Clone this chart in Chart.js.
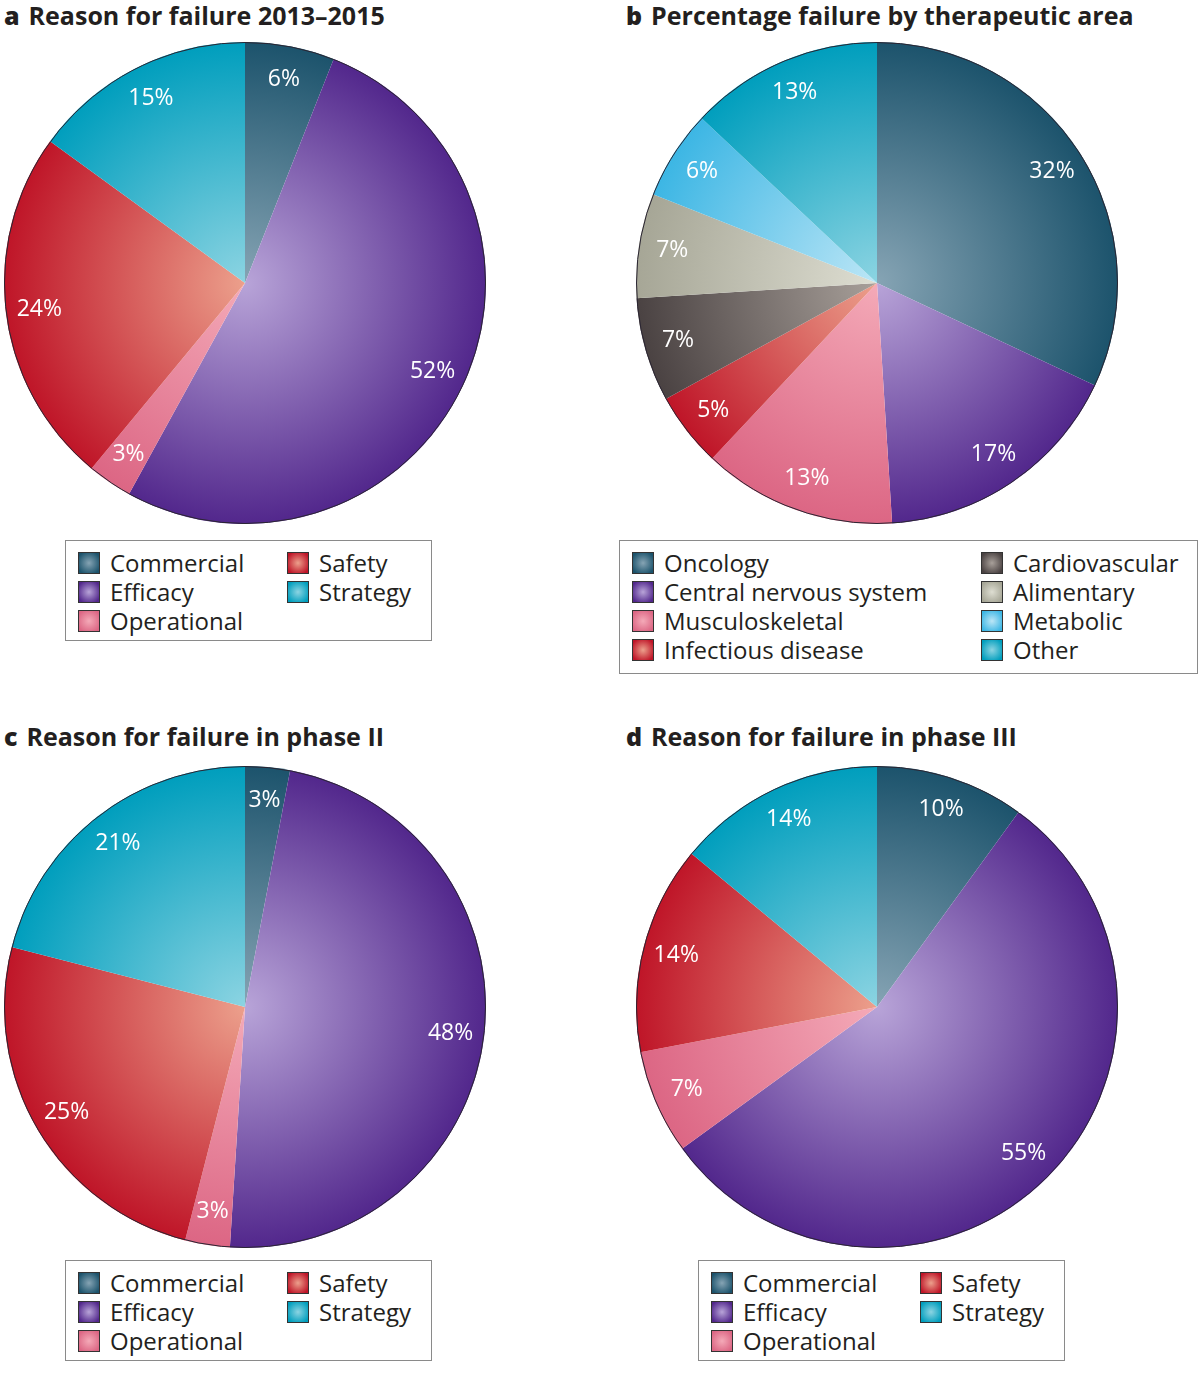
<!DOCTYPE html>
<html>
<head>
<meta charset="utf-8">
<script src="https://cdn.jsdelivr.net/npm/chart.js@4.4.1/dist/chart.umd.min.js"></script>
<style>
  html, body { margin: 0; padding: 0; background: #fff; }
  #page { position: relative; width: 1200px; height: 1377px; font-family: "Open Sans", "Noto Sans", sans-serif; color: #231f20; }
  .title { position: absolute; font-weight: bold; font-size: 25px; line-height: 30px; white-space: nowrap; }
  .title b { margin-right: 9px; }
  canvas { position: absolute; }
  .legend { position: absolute; border: 1px solid #8a8a8a; box-sizing: border-box; display: flex; padding: 7px 0 0 12px; }
  .legend .col { display: flex; flex-direction: column; }
  .legend .item { display: flex; align-items: center; height: 29px; font-size: 24px; white-space: nowrap; }
  .legend .sw { width: 20px; height: 20px; border: 1px solid #333; margin-right: 10px; flex: none; }
</style>
</head>
<body>
<div id="page">
  <div class="title" style="left:4px; top:0px;"><b>a</b>Reason for failure 2013–2015</div>
  <div class="title" style="left:626px; top:0px;"><b>b</b>Percentage failure by therapeutic area</div>
  <div class="title" style="left:4px; top:721px;"><b>c</b>Reason for failure in phase II</div>
  <div class="title" style="left:626px; top:721px;"><b>d</b>Reason for failure in phase III</div>

  <canvas id="pieA" width="482" height="482" style="left:4px; top:42px;"></canvas>
  <canvas id="pieB" width="482" height="482" style="left:636px; top:42px;"></canvas>
  <canvas id="pieC" width="482" height="482" style="left:4px; top:766px;"></canvas>
  <canvas id="pieD" width="482" height="482" style="left:636px; top:766px;"></canvas>

  <div class="legend" id="legA" style="left:65px; top:540px; width:367px; height:101px;"></div>
  <div class="legend" id="legB" style="left:619px; top:540px; width:579px; height:134px;"></div>
  <div class="legend" id="legC" style="left:65px; top:1260px; width:367px; height:101px;"></div>
  <div class="legend" id="legD" style="left:698px; top:1260px; width:367px; height:101px;"></div>
</div>

<script>
// categories
const reasonLabels = ["Commercial", "Efficacy", "Operational", "Safety", "Strategy"];
const areaLabels = ["Oncology", "Central nervous system", "Musculoskeletal", "Infectious disease",
                    "Cardiovascular", "Alimentary", "Metabolic", "Other"];

// values (%)
const failure2013to2015 = [6, 52, 3, 24, 15];
const failureByArea = [32, 17, 13, 5, 7, 7, 6, 13];
const failurePhase2 = [3, 48, 3, 25, 21];
const failurePhase3 = [10, 55, 7, 14, 14];

// [centre colour, edge colour]
const reasonColors = [
  ["#86a4b4", "#1c536c"],
  ["#b8a4d8", "#52278c"],
  ["#f4aab8", "#dc6684"],
  ["#eca08c", "#bf1528"],
  ["#8cd4e2", "#009ebd"],
];
const areaColors = [
  ["#86a4b4", "#1c536c"],
  ["#b8a4d8", "#52278c"],
  ["#f4aab8", "#dc6684"],
  ["#eca08c", "#bf1528"],
  ["#a8a09a", "#4a4242"],
  ["#deded2", "#a6a696"],
  ["#bce6f6", "#3cb6e4"],
  ["#8cd4e2", "#009ebd"],
];

// radial fill for every slice, light in the middle, dark at the rim
function radialFill(colors) {
  return (context) => {
    const chart = context.chart;
    const area = chart.chartArea;
    const pair = colors[context.dataIndex];
    if (!area) return pair[1];
    const cx = (area.left + area.right) / 2;
    const cy = (area.top + area.bottom) / 2;
    const r = Math.min(area.width, area.height) / 2;
    const g = chart.ctx.createRadialGradient(cx, cy, 0, cx, cy, r);
    g.addColorStop(0, pair[0]);
    g.addColorStop(1, pair[1]);
    return g;
  };
}

// white percent labels + thin rim
const pctLabels = {
  id: "pctLabels",
  afterDatasetsDraw(chart) {
    const c = chart.ctx;
    const meta = chart.getDatasetMeta(0);
    const values = chart.data.datasets[0].data;
    c.save();
    c.fillStyle = "#fff";
    c.font = '23px "Open Sans"';
    c.textAlign = "center";
    c.textBaseline = "middle";
    meta.data.forEach((arc, i) => {
      const p = arc.getProps(["x", "y", "startAngle", "endAngle", "outerRadius"], true);
      const mid = (p.startAngle + p.endAngle) / 2;
      const r = p.outerRadius * 0.86;
      c.fillText(values[i] + "%", p.x + Math.cos(mid) * r, p.y + Math.sin(mid) * r);
    });
    const first = meta.data[0];
    c.beginPath();
    c.arc(first.x, first.y, first.outerRadius - 0.5, 0, Math.PI * 2);
    c.strokeStyle = "#2b2633";
    c.lineWidth = 1;
    c.stroke();
    c.restore();
  },
};

function makePie(id, labels, values, colors) {
  return new Chart(document.getElementById(id), {
    type: "pie",
    data: {
      labels: labels,
      datasets: [{
        data: values,
        backgroundColor: radialFill(colors),
        borderWidth: 0,
      }],
    },
    options: {
      responsive: false,
      animation: false,
      layout: { padding: 0 },
      plugins: {
        legend: { display: false },
        tooltip: { enabled: false },
      },
    },
    plugins: [pctLabels],
  });
}

function makeLegend(id, labels, colors, firstColWidth) {
  const box = document.getElementById(id);
  const perCol = Math.ceil(labels.length / 2);
  for (let k = 0; k < 2; k++) {
    const col = document.createElement("div");
    col.className = "col";
    if (k === 0) col.style.width = firstColWidth + "px";
    labels.slice(k * perCol, (k + 1) * perCol).forEach((name, j) => {
      const idx = k * perCol + j;
      const item = document.createElement("div");
      item.className = "item";
      const sw = document.createElement("span");
      sw.className = "sw";
      sw.style.background = "radial-gradient(circle, " + colors[idx][0] + " 0%, " + colors[idx][1] + " 85%)";
      item.appendChild(sw);
      item.appendChild(document.createTextNode(name));
      col.appendChild(item);
    });
    box.appendChild(col);
  }
}

makePie("pieA", reasonLabels, failure2013to2015, reasonColors);
makePie("pieB", areaLabels, failureByArea, areaColors);
makePie("pieC", reasonLabels, failurePhase2, reasonColors);
makePie("pieD", reasonLabels, failurePhase3, reasonColors);

makeLegend("legA", reasonLabels, reasonColors, 209);
makeLegend("legB", areaLabels, areaColors, 349);
makeLegend("legC", reasonLabels, reasonColors, 209);
makeLegend("legD", reasonLabels, reasonColors, 209);
</script>
</body>
</html>
